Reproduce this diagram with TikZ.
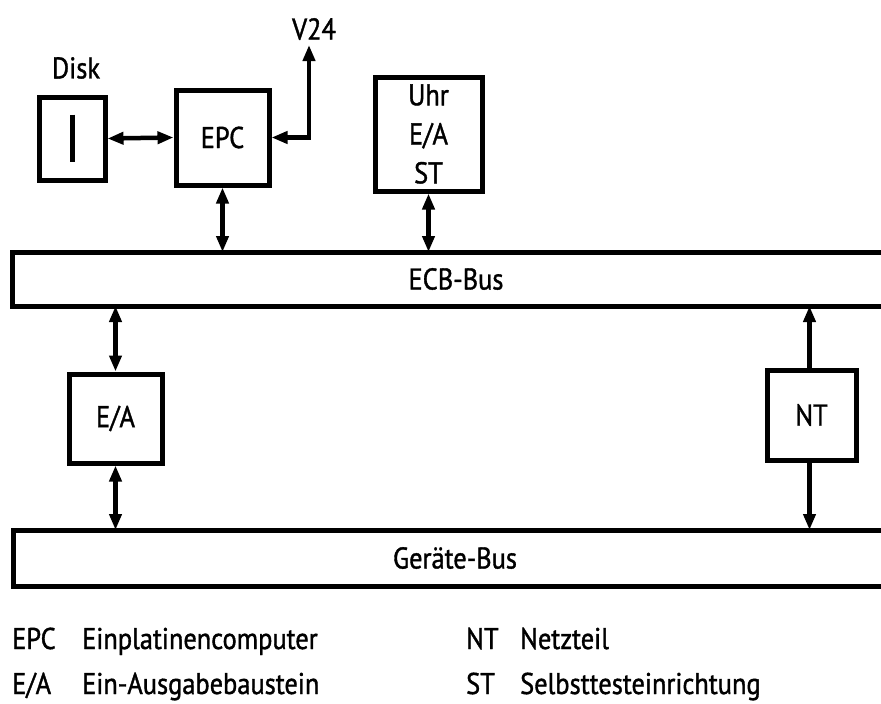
\documentclass[tikz,border=0pt]{standalone}
\usepackage{fontspec}
\setmainfont[FakeStretch=0.88,FakeBold=1.2]{PT Sans}
\usetikzlibrary{arrows.meta,calc}
\newcommand{\dgfont}{\fontsize{30}{39}\selectfont}
\begin{document}
\begin{tikzpicture}[x=1pt,y=-1pt,
  box/.style={draw,line width=5pt,inner sep=0pt,font=\dgfont,align=center},
  txt/.style={inner sep=0pt,font=\dgfont},
  tip/.tip={Triangle[length=16pt,width=12pt]},
  conn/.style={line width=4.5pt},
  bus/.style={line width=5pt}]
\useasboundingbox (0,0) rectangle (881,704);

% boxes
\node[box,minimum width=66pt,minimum height=83pt] (disk) at (72,138.5) {};
\node[txt] (disklbl) at (76,68) {Disk};
\node[box,minimum width=93pt,minimum height=95pt] (epc) at (222.5,137.5) {EPC};
\node[box,minimum width=107pt,minimum height=114pt] (uhr) at (428.5,134) {Uhr\\E/A\\ST};
\node[txt] (v24) at (314,29) {V24};
\coordinate (v24tip) at (309,45);
\node[box,minimum width=93pt,minimum height=89pt] (ea) at (115.5,418.5) {E/A};
\node[box,minimum width=89pt,minimum height=90pt] (nt) at (811.5,415) {NT};

% disk symbol
\draw[line width=5pt] ($(disk.center)+(0,-24)$) -- ++(0,47);

% buses
\coordinate (ecbtop) at (0,252);
\coordinate (ecbbot) at (0,306);
\coordinate (gertop) at (0,530);
\coordinate (gerbot) at (0,586);
\draw[bus] (890,252) -| (12,306) -- (890,306);
\node[txt] (ecb) at (456,279) {ECB-Bus};
\draw[bus] (890,530) -| (13,586) -- (890,586);
\node[txt] (ger) at (455,558) {Geräte-Bus};

% connectors
\draw[conn,tip-tip] (disk.east) -- (epc.west);
\draw[conn,tip-tip] (epc.east) -| (v24tip);
\draw[conn,tip-tip] (epc.south) -- (epc.south |- ecbtop);
\draw[conn,tip-tip] (uhr.south) -- (uhr.south |- ecbtop);
\draw[conn,tip-tip] (ea.north |- ecbbot) -- (ea.north);
\draw[conn,tip-tip] (ea.south) -- (ea.south |- gertop);
\draw[conn,-tip] ([xshift=-2pt]nt.north) -- ([xshift=-2pt]nt.north |- ecbbot);
\draw[conn,-tip] ([xshift=-2pt]nt.south) -- ([xshift=-2pt]nt.south |- gertop);

% legend
\node[txt,anchor=base west] (l1a) at (12,649) {EPC};
\node[txt,anchor=base west] (l1b) at (82,649) {Einplatinencomputer};
\node[txt,anchor=base west] (l2a) at (12,694) {E/A};
\node[txt,anchor=base west] (l2b) at (82,694) {Ein-Ausgabebaustein};
\node[txt,anchor=base west] (l3a) at (466,649) {NT};
\node[txt,anchor=base west] (l3b) at (520,649) {Netzteil};
\node[txt,anchor=base west] (l4a) at (466,694) {ST};
\node[txt,anchor=base west] (l4b) at (520,694) {Selbsttesteinrichtung};
\end{tikzpicture}
\end{document}
